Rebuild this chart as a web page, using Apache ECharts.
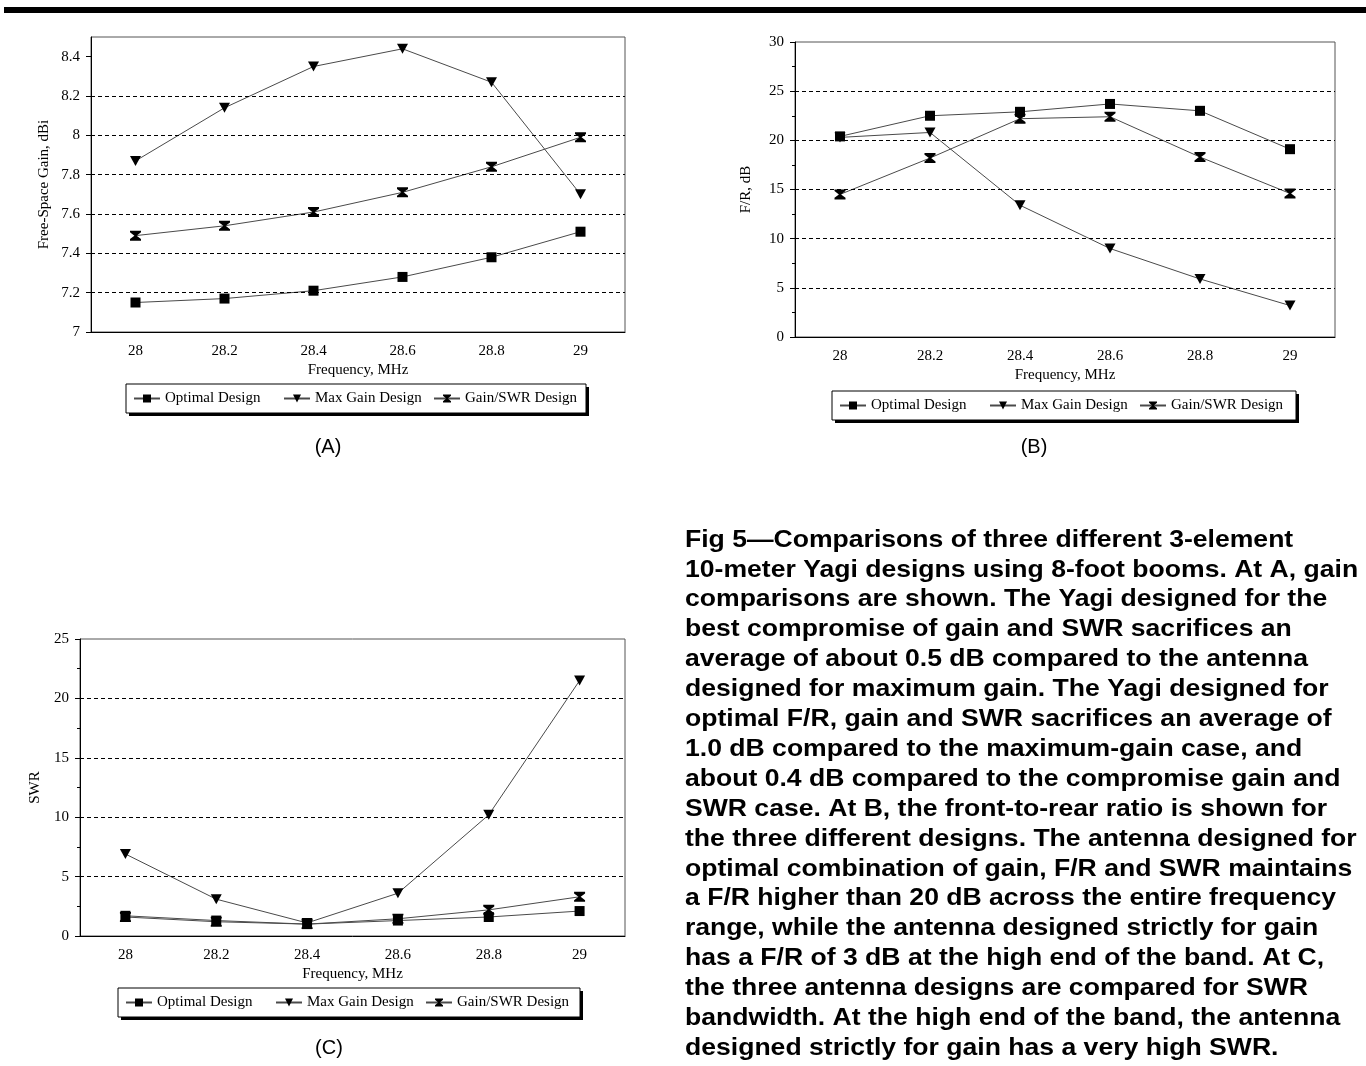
<!DOCTYPE html>
<html>
<head>
<meta charset="utf-8">
<script src="https://cdn.jsdelivr.net/npm/echarts@6/dist/echarts.min.js"></script>
<style>
  html, body { margin: 0; padding: 0; background: #fff; }
  #chart { width: 1366px; height: 1066px; }
</style>
</head>
<body>
<div id="chart"></div>
<script>
// Frequency categories shared by all three panels (MHz)
const frequencies = ['28', '28.2', '28.4', '28.6', '28.8', '29'];
const seriesNames = ['Optimal Design', 'Max Gain Design', 'Gain/SWR Design'];

// (A) Free-space gain, dBi
const gainOptimal = [7.15, 7.17, 7.21, 7.28, 7.38, 7.51];
const gainMaxGain = [7.87, 8.14, 8.35, 8.44, 8.27, 7.70];
const gainGainSwr = [7.49, 7.54, 7.61, 7.71, 7.84, 7.99];

// (B) Front-to-rear ratio, dB
const frOptimal = [20.4, 22.5, 22.9, 23.7, 23.0, 19.1];
const frMaxGain = [20.3, 20.8, 13.4, 9.0, 5.9, 3.2];
const frGainSwr = [14.5, 18.2, 22.2, 22.4, 18.3, 14.6];

// (C) SWR
const swrOptimal = [1.7, 1.3, 1.0, 1.3, 1.6, 2.1];
const swrMaxGain = [6.9, 3.1, 1.1, 3.6, 10.2, 21.5];
const swrGainSwr = [1.6, 1.2, 1.0, 1.45, 2.2, 3.3];

// Dashed reference lines per panel
const gridLinesA = [7.2, 7.4, 7.6, 7.8, 8.0, 8.2];
const gridLinesB = [5, 10, 15, 20, 25];
const gridLinesC = [5, 10, 15, 20];

const captionLines = [
  'Fig 5\u2014Comparisons of three different 3-element',
  '10-meter Yagi designs using 8-foot booms. At A, gain',
  'comparisons are shown. The Yagi designed for the',
  'best compromise of gain and SWR sacrifices an',
  'average of about 0.5 dB compared to the antenna',
  'designed for maximum gain. The Yagi designed for',
  'optimal F/R, gain and SWR sacrifices an average of',
  '1.0 dB compared to the maximum-gain case, and',
  'about 0.4 dB compared to the compromise gain and',
  'SWR case. At B, the front-to-rear ratio is shown for',
  'the three different designs. The antenna designed for',
  'optimal combination of gain, F/R and SWR maintains',
  'a F/R higher than 20 dB across the entire frequency',
  'range, while the antenna designed strictly for gain',
  'has a F/R of 3 dB at the high end of the band. At C,',
  'the three antenna designs are compared for SWR',
  'bandwidth. At the high end of the band, the antenna',
  'designed strictly for gain has a very high SWR.'
];

const SERIF = '"Liberation Serif", "Times New Roman", serif';
const SANS = '"Liberation Sans", Arial, sans-serif';

const SYM_SQUARE = 'rect';
const SYM_DOWN = 'path://M0,0 L10,0 L5,9 Z';
const SYM_HOURGLASS = 'path://M0,0 L10,0 L10,1.6 L6,5 L10,8.4 L10,10 L0,10 L0,8.4 L4,5 L0,1.6 Z';

const chart = echarts.init(document.getElementById('chart'), null, { renderer: 'canvas' });

function xAxisFor(gridIndex, nameGap) {
  return {
    gridIndex, type: 'category', data: frequencies, boundaryGap: true,
    name: 'Frequency, MHz', nameLocation: 'middle', nameGap,
    nameTextStyle: { fontFamily: SERIF, fontSize: 15, color: '#000' },
    axisLine: { lineStyle: { color: '#000', width: 1 } },
    axisTick: { alignWithLabel: true, length: 5, lineStyle: { color: '#000' } },
    axisLabel: { fontFamily: SERIF, fontSize: 15, color: '#000', margin: 12 },
    splitLine: { show: false }
  };
}

function yAxisFor(gridIndex, name, nameGap, min, max, interval, minor) {
  return {
    gridIndex, type: 'value', min, max, interval,
    name, nameLocation: 'middle', nameGap,
    nameTextStyle: { fontFamily: SERIF, fontSize: 15, color: '#000' },
    axisLine: { show: true, lineStyle: { color: '#000', width: 1 } },
    axisTick: { show: true, length: 5, lineStyle: { color: '#000' } },
    minorTick: { show: minor, splitNumber: 2, length: 3, lineStyle: { color: '#000' } },
    axisLabel: { fontFamily: SERIF, fontSize: 15, color: '#000', margin: 11, showMaxLabel: interval === 0.2 ? false : true },
    splitLine: { show: false }
  };
}

function gridLineMark(values) {
  return {
    silent: true, symbol: 'none', animation: false,
    label: { show: false },
    lineStyle: { color: '#000', width: 1, type: [4, 3] },
    data: values.map(v => ({ yAxis: v }))
  };
}

function lineSeries(name, data, idx, symbol, marks) {
  const s = {
    name, type: 'line', data, xAxisIndex: idx, yAxisIndex: idx,
    symbol, symbolSize: symbol === SYM_SQUARE ? 10 : [11, 10],
    showAllSymbol: true,
    lineStyle: { color: '#4a4a4a', width: 1 },
    itemStyle: { color: '#000' },
    emphasis: { disabled: true },
    z: 3
  };
  if (marks) s.markLine = gridLineMark(marks);
  return s;
}

// Legend frames: [left, top, width, height]
const legendBoxes = [[126, 384, 460, 29], [832, 391, 464, 29], [118, 988, 462, 29]];
const legendColumn = 150;

const legends = [];
const graphics = [
  { type: 'rect', left: 4, top: 7, shape: { width: 1362, height: 6 }, style: { fill: '#000' } }
];
legendBoxes.forEach(([bx, by, bw, bh]) => {
  graphics.push({ type: 'rect', x: bx + 3, y: by + 3, z: 1, shape: { width: bw, height: bh }, style: { fill: '#000' } });
  graphics.push({ type: 'rect', x: bx, y: by, z: 1, shape: { width: bw, height: bh }, style: { fill: '#fff', stroke: '#000', lineWidth: 1 } });
  seriesNames.forEach((nm, k) => {
    legends.push({
      left: bx + 7 + k * legendColumn, top: by + 7, data: [nm], selectedMode: false, z: 5,
      padding: 0, itemWidth: 26, itemHeight: 10,
      textStyle: { fontFamily: SERIF, fontSize: 15, color: '#000' }
    });
  });
});

[['(A)', 328, 447], ['(B)', 1034, 447], ['(C)', 329, 1048]].forEach(([t, x, y]) => {
  graphics.push({ type: 'text', x, y, style: { text: t, font: '20px ' + SANS, fill: '#000', textAlign: 'center', textVerticalAlign: 'middle' } });
});
captionLines.forEach((line, i) => {
  graphics.push({
    type: 'text', x: 685, y: 540 + i * 29.9, scaleX: 1.107, scaleY: 1,
    style: { text: line, font: 'bold 24px ' + SANS, fill: '#000', textAlign: 'left', textVerticalAlign: 'middle' }
  });
});

const panels = [
  { opt: gainOptimal, max: gainMaxGain, gs: gainGainSwr, marks: gridLinesA },
  { opt: frOptimal, max: frMaxGain, gs: frGainSwr, marks: gridLinesB },
  { opt: swrOptimal, max: swrMaxGain, gs: swrGainSwr, marks: gridLinesC }
];

const series = [];
panels.forEach((p, i) => {
  series.push(lineSeries(seriesNames[0], p.opt, i, SYM_SQUARE, p.marks));
  series.push(lineSeries(seriesNames[1], p.max, i, SYM_DOWN));
  series.push(lineSeries(seriesNames[2], p.gs, i, SYM_HOURGLASS));
});

chart.setOption({
  animation: false,
  backgroundColor: '#fff',
  grid: [
    { left: 91, top: 37, width: 534, height: 295, show: true, borderColor: '#555', borderWidth: 1, backgroundColor: '#fff' },
    { left: 795, top: 42, width: 540, height: 295, show: true, borderColor: '#555', borderWidth: 1, backgroundColor: '#fff' },
    { left: 80, top: 639, width: 545, height: 297, show: true, borderColor: '#555', borderWidth: 1, backgroundColor: '#fff' }
  ],
  xAxis: [xAxisFor(0, 31), xAxisFor(1, 31), xAxisFor(2, 31)],
  yAxis: [
    yAxisFor(0, 'Free-Space Gain, dBi', 39, 7, 8.5, 0.2, false),
    yAxisFor(1, 'F/R, dB', 41, 0, 30, 5, true),
    yAxisFor(2, 'SWR', 37, 0, 25, 5, true)
  ],
  legend: legends,
  series,
  graphic: graphics
});
</script>
</body>
</html>
